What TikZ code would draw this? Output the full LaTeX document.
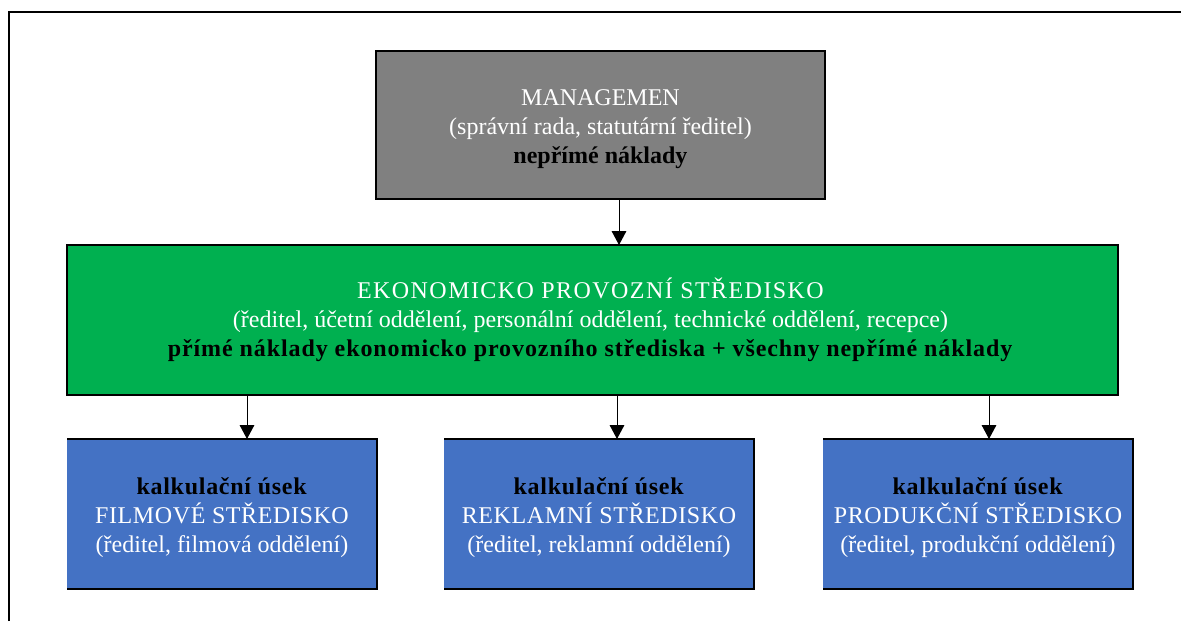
\documentclass[tikz,border=0pt]{standalone}
\usepackage{fontspec}
\setmainfont{Liberation Serif}
\usetikzlibrary{arrows.meta,calc}
\definecolor{mgray}{HTML}{808080}
\definecolor{mgreen}{HTML}{00B050}
\definecolor{mblue}{HTML}{4472C4}
\newcommand{\trk}[2]{{\addfontfeature{LetterSpace=#1}#2}}
\tikzset{
  boxtext/.style={align=center, inner sep=0pt, outer sep=0pt,
    font=\fontsize{18}{21.75}\selectfont},
  graybox/.style={fill=mgray, draw=black, line width=1.2pt, inner sep=0pt, outer sep=0pt,
    minimum width=336.75pt, minimum height=111pt},
  greenbox/.style={fill=mgreen, draw=black, line width=1.2pt, inner sep=0pt, outer sep=0pt,
    minimum width=788.25pt, minimum height=112.5pt},
  bluebox/.style={fill=mblue, inner sep=0pt, outer sep=0pt,
    minimum width=232.5pt, minimum height=112.5pt},
  blueedge/.style={draw=black, line width=1.2pt},
  conn/.style={draw=black, line width=0.75pt, -{Triangle[width=11pt,length=10.5pt]}},
  frame/.style={draw=black, line width=1pt},
}
\begin{document}
\begin{tikzpicture}[x=0.75pt,y=-0.75pt]
\useasboundingbox (0,0) rectangle (1181,621);
% outer frame
\coordinate (fl) at (9,621);
\coordinate (ftl) at (9,12);
\coordinate (fr) at (1181,12);
\draw[frame] (fl) -- (ftl) -- (fr);

\node[graybox] (mg) at (600.5,125) {};
\node[boxtext] (mgt) at ($(mg.center)+(0,4)$) {\textcolor{white}{MANAGEMEN}\\
  \textcolor{white}{(správní rada, statutární ředitel)}\\
  \textbf{nepřímé náklady}};

\node[greenbox] (ek) at (592.5,320) {};
\node[boxtext] (ekt) at ($(ek.center)+(-2,0)$) {\textcolor{white}{\trk{6}{EKONOMICKO PROVOZNÍ STŘEDISKO}}\\
  \textcolor{white}{(ředitel, účetní oddělení, personální oddělení, technické oddělení, recepce)}\\
  \textbf{\trk{3.8}{přímé náklady ekonomicko provozního střediska + všechny nepřímé náklady}}};

\node[bluebox] (b1) at (222,514) {};
\node[bluebox] (b2) at (599,514) {};
\node[bluebox] (b3) at (978,514) {};
\node[boxtext] (b1t) at ($(b1.center)+(0,4)$) {\textbf{\trk{3}{kalkulační úsek}}\\
  \textcolor{white}{\trk{2.5}{FILMOVÉ STŘEDISKO}}\\
  \textcolor{white}{(ředitel, filmová oddělení)}};
\node[boxtext] (b2t) at ($(b2.center)+(0,4)$) {\textbf{\trk{3}{kalkulační úsek}}\\
  \textcolor{white}{\trk{2.5}{REKLAMNÍ STŘEDISKO}}\\
  \textcolor{white}{(ředitel, reklamní oddělení)}};
\node[boxtext] (b3t) at ($(b3.center)+(0,4)$) {\textbf{\trk{3}{kalkulační úsek}}\\
  \textcolor{white}{\trk{2.5}{PRODUKČNÍ STŘEDISKO}}\\
  \textcolor{white}{(ředitel, produkční oddělení)}};

\foreach \b in {b1,b2,b3}{
  \draw[blueedge] (\b.north west) -- (\b.north east) -- (\b.south east) -- (\b.south west);
}

% connectors
\coordinate (x0) at (619,0);
\coordinate (x1) at (247,0);
\coordinate (x2) at (617,0);
\coordinate (x3) at (989,0);
\draw[conn] (mg.south -| x0) -- (ek.north -| x0);
\draw[conn] (ek.south -| x1) -- (b1.north -| x1);
\draw[conn] (ek.south -| x2) -- (b2.north -| x2);
\draw[conn] (ek.south -| x3) -- (b3.north -| x3);
\end{tikzpicture}
\end{document}
